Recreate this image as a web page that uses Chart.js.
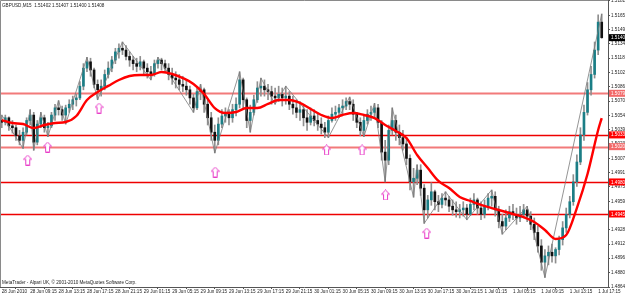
<!DOCTYPE html>
<html><head><meta charset="utf-8">
<script src="https://cdn.jsdelivr.net/npm/chart.js@4.4.1/dist/chart.umd.min.js"></script>
<style>html,body{margin:0;padding:0;background:#fff;overflow:hidden}</style>
</head><body><canvas id="c" width="625" height="295"></canvas>
<script>
const titleText = 'GBPUSD,M15  1.51402 1.51407 1.51400 1.51408';
const footerText = 'MetaTrader - Alpari UK, \u00A9 2001-2010 MetaQuotes Software Corp.';
const timeLabels = ['28 Jun 2010','28 Jun 09:15','28 Jun 13:15','28 Jun 17:15','28 Jun 21:15','29 Jun 01:15','29 Jun 05:15','29 Jun 09:15','29 Jun 13:15','29 Jun 17:15','29 Jun 21:15','30 Jun 01:15','30 Jun 05:15','30 Jun 09:15','30 Jun 13:15','30 Jun 17:15','30 Jun 21:15','1 Jul 01:15','1 Jul 05:15','1 Jul 09:15','1 Jul 13:15','1 Jul 17:15'];
const timeLabelBars = [0,8,16,24,32,40,48,56,64,72,80,88,96,104,112,120,128,136,144,152,160,168];
const priceTicks = [1.48645,1.48805,1.48965,1.49120,1.49280,1.49440,1.49595,1.49755,1.49915,1.50070,1.50230,1.50390,1.50545,1.50705,1.50865,1.51020,1.51180,1.51340,1.51495,1.51655,1.51815];
const firstOpen = 1.5049;
const highs = [
1.5055,1.5055,1.5053,1.5049,1.5044,1.5038,1.5041,1.5052,1.5061,1.5058,
1.5049,1.5058,1.5055,1.5047,1.5058,1.5067,1.5071,1.5065,1.5066,1.5072,
1.5076,1.5078,1.5092,1.5112,1.5119,1.5118,1.5107,1.5094,1.5094,1.5105,
1.5114,1.5120,1.5129,1.5134,1.5136,1.5132,1.5125,1.5120,1.5118,1.5120,
1.5116,1.5112,1.5109,1.5116,1.5119,1.5118,1.5116,1.5112,1.5107,1.5103,
1.5100,1.5098,1.5094,1.5087,1.5078,1.5085,1.5089,1.5085,1.5072,1.5058,
1.5044,1.5052,1.5061,1.5063,1.5061,1.5067,1.5074,1.5103,1.5096,1.5074,
1.5066,1.5077,1.5092,1.5096,1.5094,1.5089,1.5087,1.5085,1.5087,1.5085,
1.5087,1.5081,1.5076,1.5072,1.5070,1.5065,1.5061,1.5063,1.5061,1.5056,
1.5052,1.5047,1.5054,1.5063,1.5065,1.5067,1.5072,1.5074,1.5075,1.5072,
1.5058,1.5052,1.5054,1.5061,1.5065,1.5068,1.5067,1.5049,1.5027,1.5044,
1.5063,1.5055,1.5044,1.5038,1.5030,1.5011,1.4996,1.5000,1.5000,1.4978,
1.4966,1.4980,1.4972,1.4966,1.4968,1.4970,1.4965,1.4961,1.4959,1.4956,
1.4959,1.4956,1.4963,1.4968,1.4963,1.4959,1.4961,1.4968,1.4972,1.4970,
1.4954,1.4945,1.4950,1.4954,1.4956,1.4952,1.4954,1.4956,1.4954,1.4948,
1.4941,1.4932,1.4917,1.4906,1.4910,1.4912,1.4908,1.4921,1.4937,1.4952,
1.4965,1.4989,1.5011,1.5041,1.5066,1.5091,1.5109,1.5136,1.5166,1.5167];
const lows = [
1.5041,1.5044,1.5038,1.5035,1.5027,1.5022,1.5018,1.5033,1.5044,1.5016,
1.5022,1.5041,1.5036,1.5031,1.5041,1.5049,1.5055,1.5049,1.5045,1.5058,
1.5061,1.5065,1.5072,1.5083,1.5103,1.5098,1.5085,1.5072,1.5076,1.5083,
1.5096,1.5103,1.5112,1.5118,1.5122,1.5116,1.5109,1.5105,1.5103,1.5105,
1.5100,1.5096,1.5094,1.5098,1.5107,1.5105,1.5103,1.5094,1.5089,1.5085,
1.5083,1.5081,1.5077,1.5067,1.5058,1.5061,1.5072,1.5058,1.5044,1.5027,
1.5013,1.5022,1.5041,1.5047,1.5044,1.5047,1.5054,1.5063,1.5063,1.5041,
1.5036,1.5055,1.5069,1.5076,1.5076,1.5072,1.5067,1.5067,1.5070,1.5065,
1.5067,1.5061,1.5056,1.5052,1.5049,1.5043,1.5038,1.5044,1.5043,1.5038,
1.5034,1.5030,1.5030,1.5047,1.5049,1.5052,1.5056,1.5061,1.5061,1.5049,
1.5041,1.5032,1.5031,1.5045,1.5049,1.5052,1.5041,1.5005,1.4981,1.5000,
1.5033,1.5027,1.5022,1.5016,1.5000,1.4972,1.4964,1.4978,1.4966,1.4935,
1.4941,1.4955,1.4950,1.4948,1.4952,1.4955,1.4948,1.4944,1.4942,1.4941,
1.4943,1.4939,1.4944,1.4950,1.4945,1.4939,1.4941,1.4950,1.4954,1.4943,
1.4930,1.4923,1.4928,1.4937,1.4939,1.4934,1.4937,1.4941,1.4937,1.4928,
1.4917,1.4903,1.4883,1.4875,1.4889,1.4892,1.4891,1.4900,1.4911,1.4925,
1.4941,1.4955,1.4976,1.5000,1.5027,1.5055,1.5077,1.5096,1.5122,1.5140];
const closes = [
1.5047,1.5052,1.5043,1.5041,1.5032,1.5027,1.5036,1.5049,1.5055,1.5025,
1.5045,1.5052,1.5041,1.5043,1.5055,1.5063,1.5061,1.5055,1.5063,1.5067,
1.5072,1.5074,1.5087,1.5107,1.5114,1.5105,1.5089,1.5083,1.5087,1.5100,
1.5107,1.5116,1.5125,1.5129,1.5127,1.5120,1.5116,1.5112,1.5109,1.5114,
1.5107,1.5103,1.5100,1.5112,1.5116,1.5112,1.5107,1.5100,1.5096,1.5094,
1.5089,1.5087,1.5083,1.5074,1.5063,1.5081,1.5083,1.5067,1.5052,1.5036,
1.5027,1.5045,1.5054,1.5056,1.5052,1.5061,1.5067,1.5094,1.5072,1.5049,
1.5058,1.5072,1.5085,1.5087,1.5083,1.5081,1.5076,1.5074,1.5078,1.5074,
1.5076,1.5067,1.5063,1.5058,1.5061,1.5052,1.5047,1.5054,1.5049,1.5045,
1.5041,1.5036,1.5049,1.5056,1.5058,1.5063,1.5065,1.5070,1.5067,1.5056,
1.5047,1.5038,1.5049,1.5056,1.5058,1.5063,1.5047,1.5014,1.5005,1.5038,
1.5049,1.5036,1.5030,1.5023,1.5007,1.4981,1.4985,1.4994,1.4974,1.4950,
1.4961,1.4970,1.4959,1.4956,1.4963,1.4961,1.4954,1.4950,1.4948,1.4950,
1.4952,1.4945,1.4956,1.4961,1.4952,1.4945,1.4954,1.4963,1.4965,1.4950,
1.4937,1.4932,1.4941,1.4948,1.4945,1.4941,1.4945,1.4950,1.4943,1.4934,
1.4925,1.4910,1.4892,1.4899,1.4903,1.4899,1.4906,1.4917,1.4930,1.4945,
1.4959,1.4981,1.5003,1.5033,1.5058,1.5083,1.5100,1.5127,1.5158,1.51408];
const maBars = [0,3,6,9,12,15,18,21,24,27,30,33,36,39,42,45,48,51,54,57,60,63,66,69,72,75,78,81,84,87,90,93,96,99,102,105,108,111,114,117,120,123,126,129,132,135,138,141,144,147,150,153,156,159,162,165,168,169];
const maValues = [1.50495,1.50462,1.50451,1.50406,1.50440,1.50462,1.50473,1.50540,1.50717,1.50806,1.50873,1.50939,1.50983,1.50994,1.50994,1.51027,1.51005,1.50960,1.50895,1.50784,1.50628,1.50573,1.50584,1.50628,1.50628,1.50673,1.50717,1.50717,1.50684,1.50617,1.50551,1.50517,1.50551,1.50573,1.50551,1.50517,1.50440,1.50374,1.50296,1.50108,1.49963,1.49820,1.49742,1.49642,1.49598,1.49554,1.49520,1.49487,1.49454,1.49420,1.49365,1.49277,1.49177,1.49221,1.49520,1.49897,1.50385,1.50517];
const zigzagBars = [0,6,8,9,11,13,16,18,24,27,34,42,44,54,56,60,67,70,73,77,80,92,98,102,105,108,110,116,117,119,125,131,138,141,148,153,169];
const zigzagValues = [1.5055,1.5018,1.5061,1.5016,1.5058,1.5031,1.5071,1.5045,1.5119,1.5072,1.5136,1.5094,1.5119,1.5058,1.5089,1.5013,1.5103,1.5036,1.5096,1.5067,1.5087,1.5030,1.5075,1.5031,1.5068,1.4981,1.5063,1.4964,1.5000,1.4935,1.4970,1.4939,1.4972,1.4923,1.4954,1.4875,1.5167];
const arrowBars = [7.3,12.9,27.4,60.1,91.5,101.5,108.1,119.7];
const arrowValues = [1.50052,1.50196,1.50628,1.49919,1.50163,1.50163,1.49665,1.49243];
const levelValues = [1.50791,1.50330,1.50200,1.49809,1.49454];
const levelStyles = ['light','dark','light','dark','dark'];
const lastPrice = 1.51408;

const opens = closes.map((c, i) => i === 0 ? firstOpen : closes[i - 1]);
const wickData = highs.map((h, i) => ({x: i, y: [lows[i], h]}));
const bodyData = closes.map((c, i) => ({x: i, y: [opens[i], c]}));
const bodyColors = closes.map((c, i) => c >= opens[i] ? '#1b7e86' : '#111111');

function makeArrow() {
  const c = document.createElement('canvas');
  c.width = 9; c.height = 11;
  const g = c.getContext('2d');
  g.beginPath();
  g.moveTo(4.5, 0.5); g.lineTo(8.5, 4.8); g.lineTo(6.5, 4.8); g.lineTo(6.5, 10.5);
  g.lineTo(2.5, 10.5); g.lineTo(2.5, 4.8); g.lineTo(0.5, 4.8); g.closePath();
  g.fillStyle = '#fff'; g.fill();
  g.strokeStyle = '#e83cc8'; g.lineWidth = 1; g.stroke();
  return c;
}
const arrowImg = makeArrow();
const FONT = '"Liberation Sans", Arial, sans-serif';
const FS = 4.6;

const overlay = {
  id: 'overlay',
  beforeDraw(chart) {
    const ctx = chart.ctx;
    ctx.save(); ctx.fillStyle = '#fff'; ctx.fillRect(0, 0, chart.width, chart.height); ctx.restore();
  },
  beforeDatasetsDraw(chart) {
    const {ctx, chartArea, scales} = chart;
    ctx.save();
    levelValues.forEach((v, i) => {
      const y = Math.round(scales.y.getPixelForValue(v)) + 0.5;
      ctx.beginPath();
      if (levelStyles[i] === 'light') { ctx.strokeStyle = '#f27a7a'; ctx.lineWidth = 2; }
      else { ctx.strokeStyle = '#ee0000'; ctx.lineWidth = 1.3; }
      ctx.moveTo(chartArea.left, y); ctx.lineTo(chartArea.right, y); ctx.stroke();
    });
    ctx.restore();
  },
  afterDraw(chart) {
    const {ctx, chartArea, scales} = chart;
    ctx.save();
    ctx.strokeStyle = '#8a8a8a'; ctx.lineWidth = 1;
    ctx.beginPath();
    ctx.moveTo(0.5, chartArea.bottom); ctx.lineTo(0.5, 0.5); ctx.lineTo(chartArea.right, 0.5); ctx.stroke();
    ctx.font = FS + 'px ' + FONT;
    ctx.textBaseline = 'middle';
    ctx.textAlign = 'left';
    const boxes = levelValues.map((v, i) => ({v, bg: levelStyles[i] === 'light' ? '#f26a6a' : '#ff0000'}));
    boxes.push({v: lastPrice, bg: '#000'});
    boxes.forEach(b => {
      const y = scales.y.getPixelForValue(b.v);
      ctx.fillStyle = b.bg;
      ctx.fillRect(chartArea.right + 1, y - 3.5, chart.width - chartArea.right - 1, 7);
      ctx.fillStyle = '#fff';
      ctx.fillText(b.v.toFixed(5), chartArea.right + 3, y + 0.3);
    });
    ctx.fillStyle = '#222';
    ctx.fillText(titleText, 2, 5.5);
    ctx.fillText(footerText, 2, chartArea.bottom - 4);
    ctx.restore();
  }
};

new Chart(document.getElementById('c'), {
  type: 'bar',
  data: {
    datasets: [
      {type: 'line', label: 'arrows', data: arrowBars.map((x, i) => ({x, y: arrowValues[i]})), showLine: false,
       pointStyle: arrowImg, pointRadius: 5, order: 0},
      {type: 'line', label: 'MA', data: maBars.map((x, i) => ({x, y: maValues[i]})), borderColor: '#ff0000',
       borderWidth: 2.4, pointRadius: 0, cubicInterpolationMode: 'monotone', order: 1},
      {type: 'line', label: 'ZigZag', data: zigzagBars.map((x, i) => ({x, y: zigzagValues[i]})), borderColor: '#7a7a7a',
       borderWidth: 0.8, pointRadius: 0, tension: 0, order: 2},
      {label: 'body', data: bodyData, backgroundColor: bodyColors, barThickness: 2, grouped: false, minBarLength: 1, order: 3},
      {label: 'wick', data: wickData, backgroundColor: '#8f8f8f', barThickness: 1, grouped: false, order: 4}
    ]
  },
  options: {
    responsive: false, animation: false, events: [], devicePixelRatio: 1,
    layout: {padding: 0, autoPadding: false},
    plugins: {legend: {display: false}, tooltip: {enabled: false}},
    scales: {
      x: {
        type: 'linear', min: -0.5, max: 170.77, offset: false,
        afterBuildTicks: s => { s.ticks = timeLabelBars.map(v => ({value: v})); },
        afterFit: s => { s.height = 8; s.paddingLeft = 0; s.paddingRight = 0; },
        ticks: {autoSkip: false, maxRotation: 0, minRotation: 0, align: 'start', padding: 0,
          font: {family: FONT, size: FS}, color: '#222',
          callback: (v, i) => timeLabels[i]},
        grid: {display: true, drawOnChartArea: false, drawTicks: true, tickLength: 2, color: '#555'},
        border: {display: true, color: '#555'}
      },
      y: {
        type: 'linear', position: 'right', min: 1.48645, max: 1.51825,
        afterBuildTicks: s => { s.ticks = priceTicks.map(v => ({value: v})); },
        afterFit: s => { s.width = 17; s.paddingTop = 0; s.paddingBottom = 0; },
        ticks: {padding: 1, font: {family: FONT, size: FS}, color: '#222', callback: v => v.toFixed(5)},
        grid: {display: true, drawOnChartArea: false, drawTicks: true, tickLength: 2, color: '#555'},
        border: {display: true, color: '#555'}
      }
    }
  },
  plugins: [overlay]
});
</script>
</body></html>
